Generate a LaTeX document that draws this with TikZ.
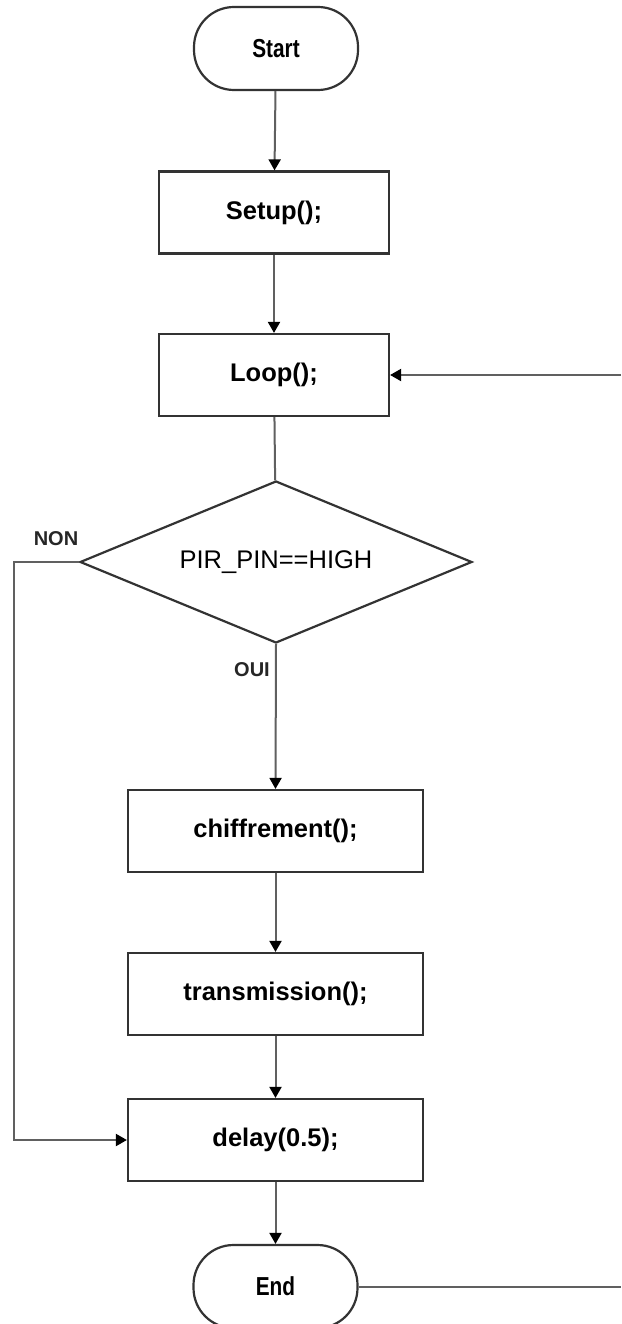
\documentclass[tikz,border=0pt]{standalone}
\usepackage{fontspec}
\usepackage{graphicx}
\setmainfont{Liberation Sans}
\usetikzlibrary{shapes.geometric,arrows.meta}
\definecolor{boxline}{HTML}{333333}
\definecolor{conline}{HTML}{606060}
\tikzset{
  x=1pt, y=-1pt,
  procbox/.style={draw=boxline, line width=2.2pt, rectangle, inner sep=0pt,
    minimum width=#1, minimum height=82pt,
    font=\fontsize{25.5}{30}\selectfont\bfseries},
  termbox/.style={draw=boxline, line width=2.2pt, rectangle, rounded corners=40pt,
    inner sep=0pt, minimum width=164pt, minimum height=83pt,
    font=\fontsize{26}{30}\selectfont\bfseries},
  decbox/.style={draw=boxline, line width=2.2pt, diamond, inner sep=0pt,
    minimum width=392pt, minimum height=162pt, shape aspect=2.42,
    font=\fontsize{25.5}{30}\selectfont},
  conn/.style={draw=conline, line width=2pt},
  arr/.style={conn, -{Triangle[width=12pt,length=11pt,fill=black,color=black]}},
  lbl/.style={font=\fontsize{20}{24}\selectfont\bfseries, text=black!85, inner sep=0pt}
}
\begin{document}
\begin{tikzpicture}
\clip (0,0) rectangle (621,1324);
\fill[white] (0,0) rectangle (621,1324);

\node[termbox] (start) at (276,48.5) {\scalebox{0.8}[1]{Start}};
\node[procbox=230pt] (setup) at (274,212.5) {Setup();};
\node[procbox=230pt] (loop) at (274,375) {Loop();};
\node[decbox] (dec) at (276,562) {PIR\_PIN==HIGH};
\node[procbox=295pt] (chif) at (275.5,831) {chiffrement();};
\node[procbox=295pt] (trans) at (275.5,994) {transmission();};
\node[procbox=295pt] (delay) at (275.5,1140) {delay(0.5);};
\node[termbox] (end) at (275.5,1286.5) {\scalebox{0.8}[1]{End}};

\coordinate (loopin) at (621,375);
\coordinate (endout) at (621,1286.5);
\coordinate (nonA) at (14,562);
\coordinate (nonB) at (14,1140);

\draw[arr] (start) -- (setup);
\draw[arr] (setup) -- (loop);
\draw[arr] (loopin) -- (loop);
\draw[conn] (loop) -- (dec);
\draw[arr] (dec.south) -- (chif.north);
\draw[arr] (chif) -- (trans);
\draw[arr] (trans) -- (delay);
\draw[arr] (delay) -- (end);
\draw[arr] (dec.west) -- (nonA) -- (nonB) -- (delay.west);
\draw[conn] (end) -- (endout);

\node[lbl] (non) at (56,539) {NON};
\node[lbl] (oui) at (252,670) {OUI};
\end{tikzpicture}
\end{document}
